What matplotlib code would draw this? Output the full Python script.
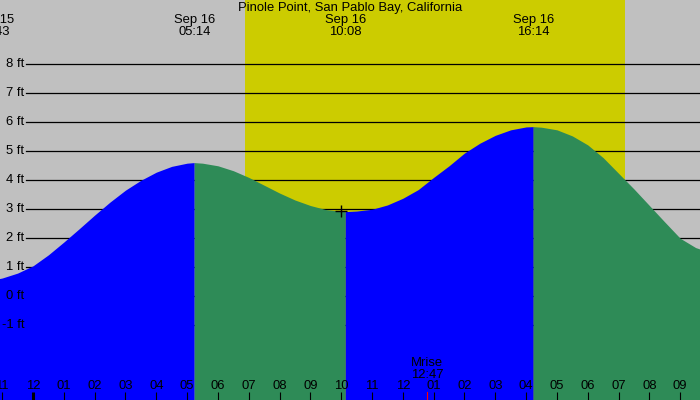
import matplotlib
matplotlib.use("Agg")
import matplotlib.pyplot as plt

# tide height (ft), hours relative to Sep 16 00:00
tide_hours = [-1.5, -1.28, -1.0, -0.5, 0.0, 0.5, 1.0, 1.5, 2.0, 2.5, 3.0, 3.5, 4.0, 4.5, 5.0, 5.23,
              5.5, 6.0, 6.5, 7.0, 7.5, 8.0, 8.5, 9.0, 9.5, 10.0, 10.13,
              10.5, 11.0, 11.5, 12.0, 12.5, 13.0, 13.5, 14.0, 14.5, 15.0, 15.5, 16.0, 16.23,
              16.5, 17.0, 17.5, 18.0, 18.5, 19.0, 19.5, 20.0, 20.5, 21.0, 21.5, 22.0]
tide_ft = [0.60, 0.57, 0.63, 0.80, 1.05, 1.43, 1.87, 2.33, 2.80, 3.25, 3.66, 4.00, 4.28, 4.48, 4.59, 4.61,
           4.59, 4.50, 4.33, 4.10, 3.83, 3.56, 3.32, 3.13, 2.99, 2.93, 2.92,
           2.94, 3.00, 3.15, 3.38, 3.68, 4.10, 4.50, 4.94, 5.28, 5.55, 5.74, 5.84, 5.85,
           5.83, 5.74, 5.53, 5.22, 4.78, 4.24, 3.70, 3.13, 2.56, 2.00, 1.68, 1.50]

# high / low tides
extreme_hours = [-1.28, 5.23, 10.13, 16.23]
extreme_dates = ["Sep 15", "Sep 16", "Sep 16", "Sep 16"]
extreme_times = ["22:43", "05:14", "10:08", "16:14"]

sunrise, sunset = 6.88, 19.21
moonrise = 12.78
moonrise_label = "Mrise\n12:47"
now_hour, now_ft = 10.0, 2.93

tick_hours = list(range(-1, 22))
tick_labels = ["11", "12", "01", "02", "03", "04", "05", "06", "07", "08", "09", "10", "11",
               "12", "01", "02", "03", "04", "05", "06", "07", "08", "09"]
grid_ft = [8, 7, 6, 5, 4, 3, 2, 1, 0, -1]

title = "Pinole Point, San Pablo Bay, California"

plt.rcParams['font.family'] = ['Liberation Sans', 'DejaVu Sans']
fs = 9.4

fig = plt.figure(figsize=(7, 4), dpi=100)
fig.patch.set_facecolor("#c0c0c0")
ax = fig.add_axes([0, 0, 1, 1])
ax.set_facecolor("#c0c0c0")
ax.set_xlim(-1.071, 21.642)
ax.set_ylim(-3.576, 10.217)
ax.axis("off")

ax.axvspan(sunrise, sunset, color="#cccc00", lw=0, zorder=1)

for g in grid_ft:
    ax.axhline(g, xmin=26 / 700, xmax=1, color="black", lw=0.9, zorder=2)

# water, blue while rising and green while falling
bounds = [tide_hours[0]] + extreme_hours + [tide_hours[-1]]
for a, b in zip(bounds[:-1], bounds[1:]):
    hs = [h for h in tide_hours if a <= h <= b]
    vs = [v for h, v in zip(tide_hours, tide_ft) if a <= h <= b]
    col = "#0000ff" if vs[-1] > vs[0] else "#2e8b57"
    ax.fill_between(hs, vs, -5, color=col, lw=0, zorder=3)

for g in grid_ft:
    ax.text(24 / 700, g, f"{g} ft", transform=ax.get_yaxis_transform(),
            ha="right", va="center", fontsize=fs, zorder=5)

ax.plot(now_hour, now_ft, marker="+", color="black", ms=9, mew=1, zorder=6)

xt = ax.get_xaxis_transform()
ax.text(0.5, 1 - 8 / 400, title, transform=ax.transAxes, ha="center", va="center", fontsize=fs, zorder=6)
for h, d, t in zip(extreme_hours, extreme_dates, extreme_times):
    ax.text(h, 1 - 20 / 400, d, transform=xt, ha="center", va="center", fontsize=fs, zorder=6)
    ax.text(h, 1 - 32 / 400, t, transform=xt, ha="center", va="center", fontsize=fs, zorder=6)

for h, lab in zip(tick_hours, tick_labels):
    ax.text(h, 1 - 386 / 400, lab, transform=xt, ha="center", va="center", fontsize=fs, zorder=6)
    lw = 2.2 if h == 0 else 0.8
    ax.plot([h, h], [0, 8 / 400], transform=xt, color="black", lw=lw, zorder=6,
            solid_capstyle="butt")

ax.plot([moonrise, moonrise], [0, 8 / 400], transform=xt, color="red", lw=0.8, zorder=6)
mr_lines = moonrise_label.split("\n")
ax.text(moonrise, 1 - 363 / 400, mr_lines[0], transform=xt, ha="center", va="center", fontsize=fs, zorder=6)
ax.text(moonrise, 1 - 375 / 400, mr_lines[1], transform=xt, ha="center", va="center", fontsize=fs, zorder=6)

fig.savefig("out.png", dpi=100)
